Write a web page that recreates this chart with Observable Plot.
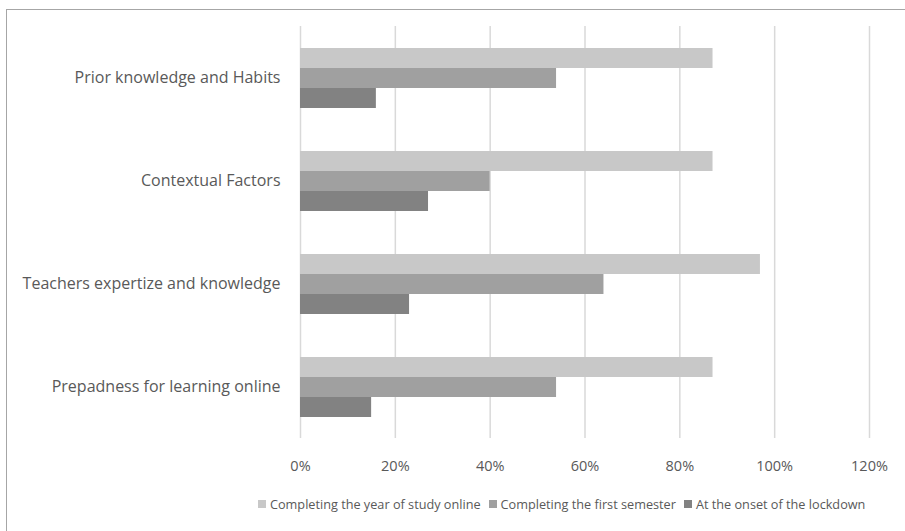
<!DOCTYPE html>
<html>
<head>
<meta charset="utf-8">
<script src="https://cdn.jsdelivr.net/npm/d3@7"></script>
<script src="https://cdn.jsdelivr.net/npm/@observablehq/plot@0.6"></script>
<style>
  html, body { margin: 0; padding: 0; background: #fff; overflow: hidden; width: 905px; height: 531px; }
  #frame { position: absolute; left: 6px; top: 9px; width: 1000px; height: 700px; border: 1.5px solid #a6a6a6; box-sizing: border-box; }
  #chart { position: absolute; left: 0; top: 0; }
  #legend { position: absolute; left: 258px; top: 495px; display: flex; gap: 8px; font-family: "Open Sans", sans-serif; font-size: 12.7px; color: #595959; white-space: nowrap; }
  #legend .item { display: flex; align-items: center; gap: 4px; }
  #legend .sw { width: 8px; height: 8px; display: inline-block; }
</style>
</head>
<body>
<div id="frame"></div>
<div id="chart"></div>
<div id="legend"></div>
<script>
// Factors, top to bottom
const categories = [
  "Prior knowledge and Habits",
  "Contextual Factors",
  "Teachers expertize and knowledge",
  "Prepadness for learning online"
];
// Time points, drawn top to bottom within each factor
const series = [
  "Completing the year of study online",
  "Completing the first semester",
  "At the onset of the lockdown"
];
const yearValues = [0.87, 0.87, 0.97, 0.87];
const semesterValues = [0.54, 0.40, 0.64, 0.54];
const onsetValues = [0.16, 0.27, 0.23, 0.15];
const xTicks = [0, 0.2, 0.4, 0.6, 0.8, 1.0, 1.2];
const colors = ["#c8c8c8", "#a0a0a0", "#828282"];

const seriesValues = [yearValues, semesterValues, onsetValues];
const rows = [];
categories.forEach((c, i) => {
  series.forEach((s, j) => rows.push({category: c, series: s, value: seriesValues[j][i]}));
});

const font = "'Open Sans', sans-serif";

const chart = Plot.plot({
  width: 905,
  height: 480,
  marginTop: 25,
  marginBottom: 41,
  marginLeft: 300,
  marginRight: 36,
  style: {fontFamily: font, fontSize: "14px", color: "#595959", background: "transparent"},
  x: {domain: [0, 1.2], ticks: xTicks, tickFormat: d3.format(".0%"), label: null},
  y: {domain: series, paddingInner: 0, paddingOuter: 0.96, axis: null},
  fy: {domain: categories, padding: 0, label: null, axis: null},
  color: {domain: series, range: colors},
  marks: [
    Plot.ruleX(xTicks, {stroke: "#d9d9d9", strokeWidth: 1.5}),
    Plot.barX(rows, {fy: "category", y: "series", x: "value", fill: "series"}),
    Plot.axisX({ticks: xTicks, tickFormat: d3.format(".0%"), tickSize: 0, tickPadding: 22, fill: "#595959", fontSize: 14.5, label: null}),
    Plot.axisFy({anchor: "left", tickSize: 0, tickPadding: 20, fill: "#595959", fontSize: 16, label: null})
  ]
});
document.getElementById("chart").appendChild(chart);

// Legend below the plot
const legend = document.getElementById("legend");
series.forEach((s, j) => {
  const item = document.createElement("span");
  item.className = "item";
  const sw = document.createElement("span");
  sw.className = "sw";
  sw.style.background = colors[j];
  item.appendChild(sw);
  item.appendChild(document.createTextNode(s));
  legend.appendChild(item);
});
</script>
</body>
</html>
